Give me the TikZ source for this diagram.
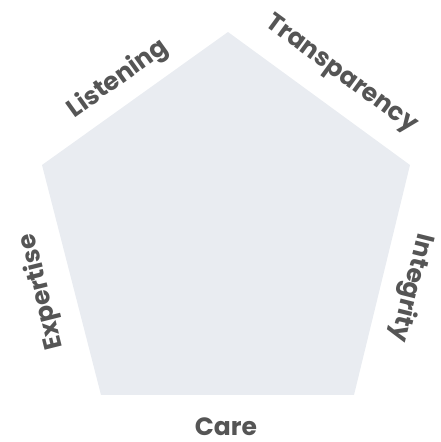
\documentclass[tikz,border=0pt]{standalone}
\usepackage{fontspec}
\setmainfont{Poppins}
\usepackage{tikz}
\definecolor{panel}{HTML}{E9ECF1}
\definecolor{ink}{HTML}{555555}
\tikzset{
  value/.style={text=ink, font=\bfseries\fontsize{25}{28}\selectfont, inner sep=0pt}
}

\begin{document}
\begin{tikzpicture}[x=1pt, y=1pt]
      \useasboundingbox (0,0) rectangle (441,442);

      %% corners of the pentagon
      \coordinate (top)  at (228,410);
      \coordinate (ul)   at (42,277);
      \coordinate (ur)   at (410,277);
      \coordinate (bl)   at (101,47);
      \coordinate (br)   at (354,47);

      \fill[panel] (top) -- (ur) -- (br) -- (bl) -- (ul) -- cycle;

      %% one value per side
      \node[value, rotate=35.6]  (listening)    at (118,363) {Listening};
      \node[value, rotate=-36.2] (transparency) at (341,367) {Transparency};
      \node[value, rotate=-104]  (integrity)    at (411,154) {Integrity};
      \node[value]               (care)         at (226,15)  {Care};
      \node[value, rotate=104]   (expertise)    at (42,150)  {Expertise};

\end{tikzpicture}
\end{document}
